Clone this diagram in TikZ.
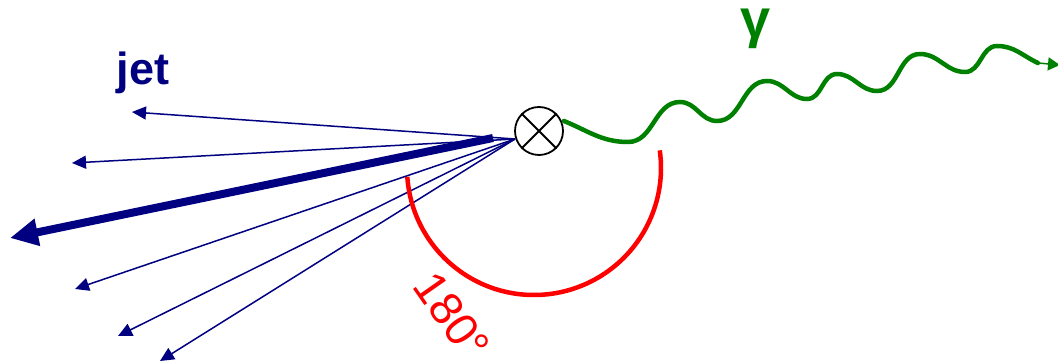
\documentclass[tikz,border=0pt]{standalone}
\usepackage{fontspec}
\setmainfont{Liberation Sans}
\usetikzlibrary{arrows.meta}
\definecolor{jetblue}{RGB}{0,0,128}
\definecolor{phgreen}{RGB}{0,128,0}
\definecolor{angred}{RGB}{255,0,0}
\begin{document}
\begin{tikzpicture}[x=1pt,y=1pt,
  track/.style={draw=jetblue,line width=1.5pt,-{Triangle[length=14pt,width=13pt]}},
  leadtrack/.style={draw=jetblue,line width=8pt,-{Triangle[length=28pt,width=26pt]}},
  vertex/.style={circle,draw=black,line width=1.8pt,fill=white,minimum size=48pt,inner sep=0pt},
  photon/.style={draw=phgreen,line width=4.5pt,line cap=round},
  anglearc/.style={draw=angred,line width=4.5pt}]
\useasboundingbox (0,0) rectangle (1058,364);
% thin tracks
\coordinate (o) at (515,225);
\coordinate (t1) at (132,252);
\coordinate (t2) at (72,201);
\coordinate (t4) at (75,75);
\coordinate (t5) at (118,28);
\coordinate (t6) at (160,3);
\draw[track] (o) -- (t1);
\draw[track] (o) -- (t2);
\draw[track] (o) -- (t4);
\draw[track] (o) -- (t5);
\draw[track] (o) -- (t6);
% leading track
\coordinate (ls) at (493,226);
\coordinate (lt) at (10,126);
\draw[leadtrack] (ls) -- (lt);
% vertex
\node[vertex] (c) at (539,233) {};
\draw[line width=1.8pt] (c.45) -- (c.225) (c.135) -- (c.315);
% angle arc
\coordinate (ac) at (534,196);
\draw[anglearc] ([shift={(184:127)}]ac) arc[start angle=184, end angle=368, radius=127];
\node[text=angred,font=\fontsize{46}{46}\selectfont,rotate=-55] (deg) at (452,48) {180°};
% photon
\draw[photon] (c.east) ++(0,10) coordinate (p0)
  to[out=-22,in=180] (628,222)
  to[out=0,in=180] (680,262)
  to[out=0,in=180] (717,243)
  to[out=0,in=180] (767,283)
  to[out=0,in=180] (807,265)
  to[out=0,in=180] (837,290)
  to[out=0,in=180] (877,273)
  to[out=0,in=180] (920,310)
  to[out=0,in=180] (965,292)
  to[out=0,in=180] (997,318)
  to[out=0,in=155] coordinate[pos=1] (pe) (1038,301);
\coordinate (ptip) at (1060,299);
\draw[draw=phgreen,line width=1.5pt,-{Triangle[length=12pt,width=13pt]}] (pe) -- (ptip);
% labels
\node[text=jetblue,font=\bfseries\fontsize{45}{45}\selectfont,anchor=base] (jet) at (143,279) {jet};
\node[text=phgreen,font=\bfseries\fontsize{54}{54}\selectfont,anchor=base] (gam) at (756,326) {γ};
\end{tikzpicture}
\end{document}
